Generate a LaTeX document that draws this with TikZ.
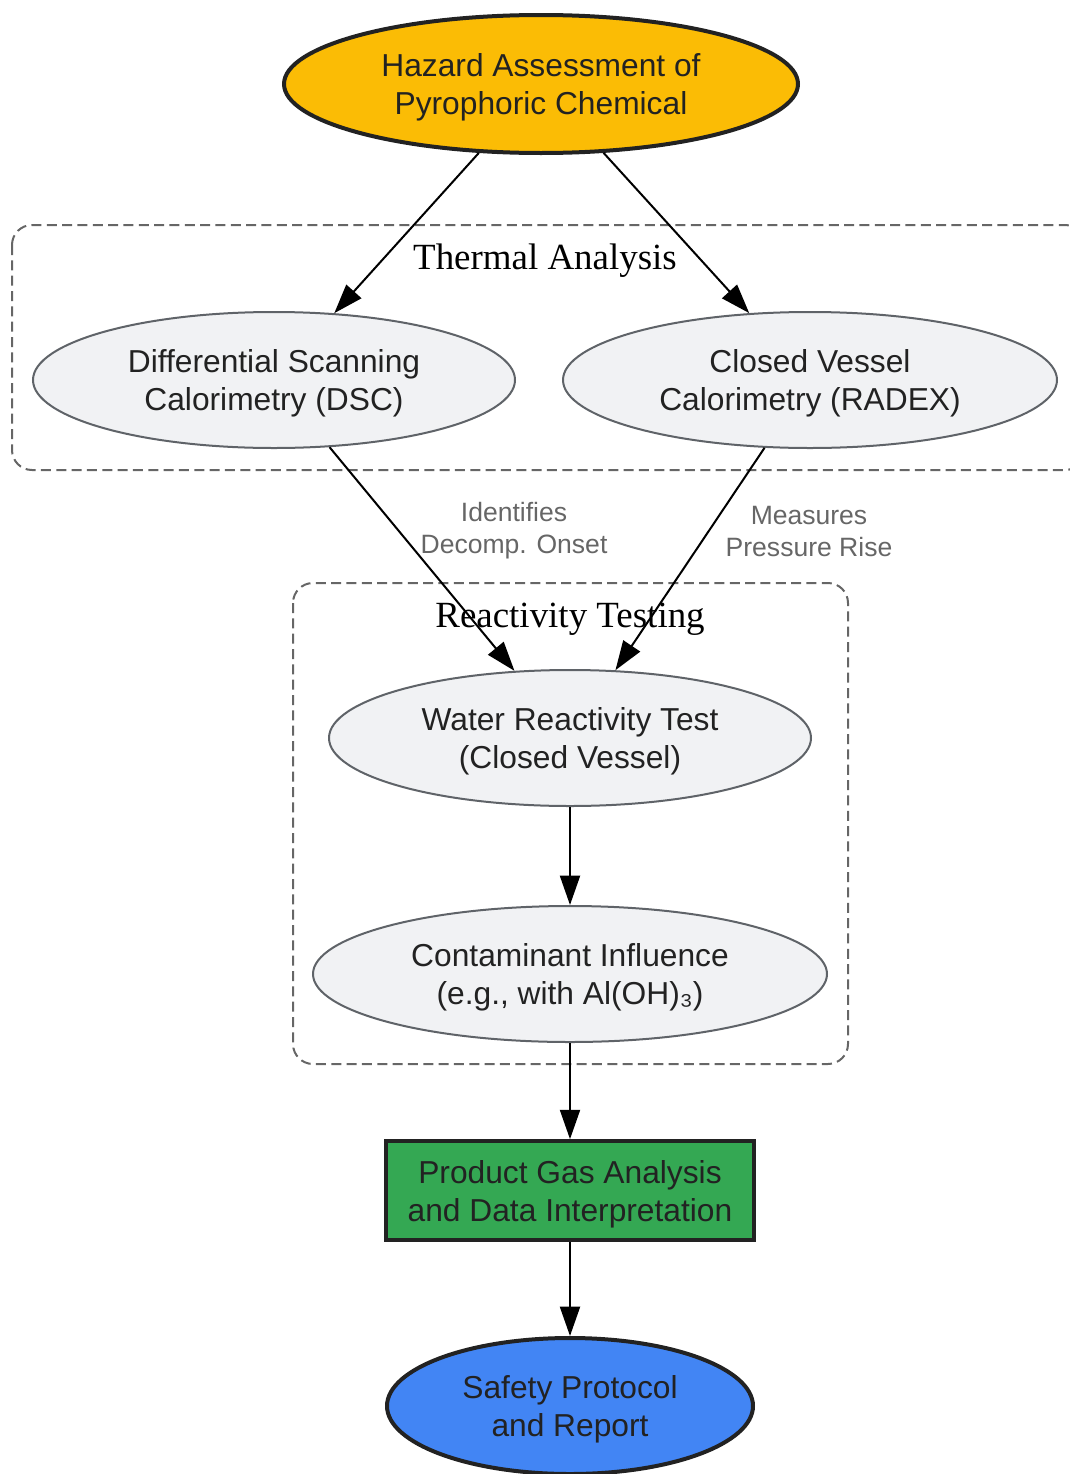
\documentclass[tikz,border=0pt]{standalone}
\usepackage{fontspec}
\setmainfont{Liberation Serif}
\setsansfont{Liberation Sans}
\usetikzlibrary{shapes,arrows.meta,positioning}

\begin{document}
\begin{tikzpicture}[x=0.75pt, y=-0.75pt,
    txt/.style={font=\sffamily\fontsize{23.8}{28.5}\selectfont, text=nodetext, align=center, text depth=0pt},
    mainell/.style={ellipse, draw=borderdark, line width=3pt, inner sep=0pt, txt},
    subell/.style={ellipse, draw=bordergray, fill=nodegray, line width=1.5pt, inner sep=0pt, minimum height=102pt, txt},
    cluster/.style={draw=clustergray, dash pattern=on 7.5pt off 4pt, rounded corners=15pt, line width=1.5pt},
    clusterlbl/.style={font=\fontsize{27.7}{30}\selectfont},
    edgelbl/.style={font=\sffamily\fontsize{19.9}{24}\selectfont, text=labelgray, align=center},
    flow/.style={line width=1.5pt, -{Triangle[length=22pt, width=15pt]}}
]
    % Colori
    \definecolor{hazardyellow}{HTML}{FBBC05}
    \definecolor{gasgreen}{HTML}{34A853}
    \definecolor{reportblue}{HTML}{4285F4}
    \definecolor{nodegray}{HTML}{F1F2F4}
    \definecolor{bordergray}{HTML}{5F6368}
    \definecolor{borderdark}{HTML}{222222}
    \definecolor{clustergray}{HTML}{666666}
    \definecolor{labelgray}{HTML}{666666}
    \definecolor{nodetext}{HTML}{222222}

    \useasboundingbox (0,0) rectangle (1070,1474);

    % Gruppi
    \draw[cluster] (12,225) rectangle (1085,470);
    \node[clusterlbl] (thermallbl) at (545,261) {Thermal Analysis};
    \draw[cluster] (293,583) rectangle (848,1064);
    \node[clusterlbl] (reactlbl) at (570,619) {Reactivity Testing};

    % Nodi
    \node[mainell, fill=hazardyellow, minimum width=385.5pt, minimum height=103.5pt]
        (hazard) at (541,84) {Hazard Assessment of\\Pyrophoric Chemical};
    \node[subell, minimum width=361.5pt] (dsc) at (274,380)
        {Differential Scanning\\Calorimetry (DSC)};
    \node[subell, minimum width=370.5pt] (radex) at (810,380)
        {Closed Vessel\\Calorimetry (RADEX)};
    \node[subell, minimum width=361.5pt] (water) at (570,738)
        {Water Reactivity Test\\(Closed Vessel)};
    \node[subell, minimum width=385.5pt] (contam) at (570,974)
        {Contaminant Influence\\(e.g., with Al(OH)₃)};
    \node[rectangle, draw=borderdark, fill=gasgreen, line width=3pt, inner sep=0pt,
        minimum width=276pt, minimum height=74pt, txt] (gas) at (570,1190.5)
        {Product Gas Analysis\\and Data Interpretation};
    \node[mainell, fill=reportblue, minimum width=274.5pt, minimum height=102pt]
        (report) at (570,1406) {Safety Protocol\\and Report};

    % Frecce
    \draw[flow] (hazard) -- (dsc);
    \draw[flow] (hazard) -- (radex);
    \draw[flow] (dsc) -- (water);
    \draw[flow] (radex) -- (water);
    \draw[flow] (water) -- (contam);
    \draw[flow] (contam) -- (gas);
    \draw[flow] (gas) -- (report);

    % Etichette
    \node[edgelbl] (onsetlbl) at (514,531) {Identifies\\Decomp. Onset};
    \node[edgelbl] (pressurelbl) at (809,531) {Measures\\Pressure Rise};
\end{tikzpicture}
\end{document}
